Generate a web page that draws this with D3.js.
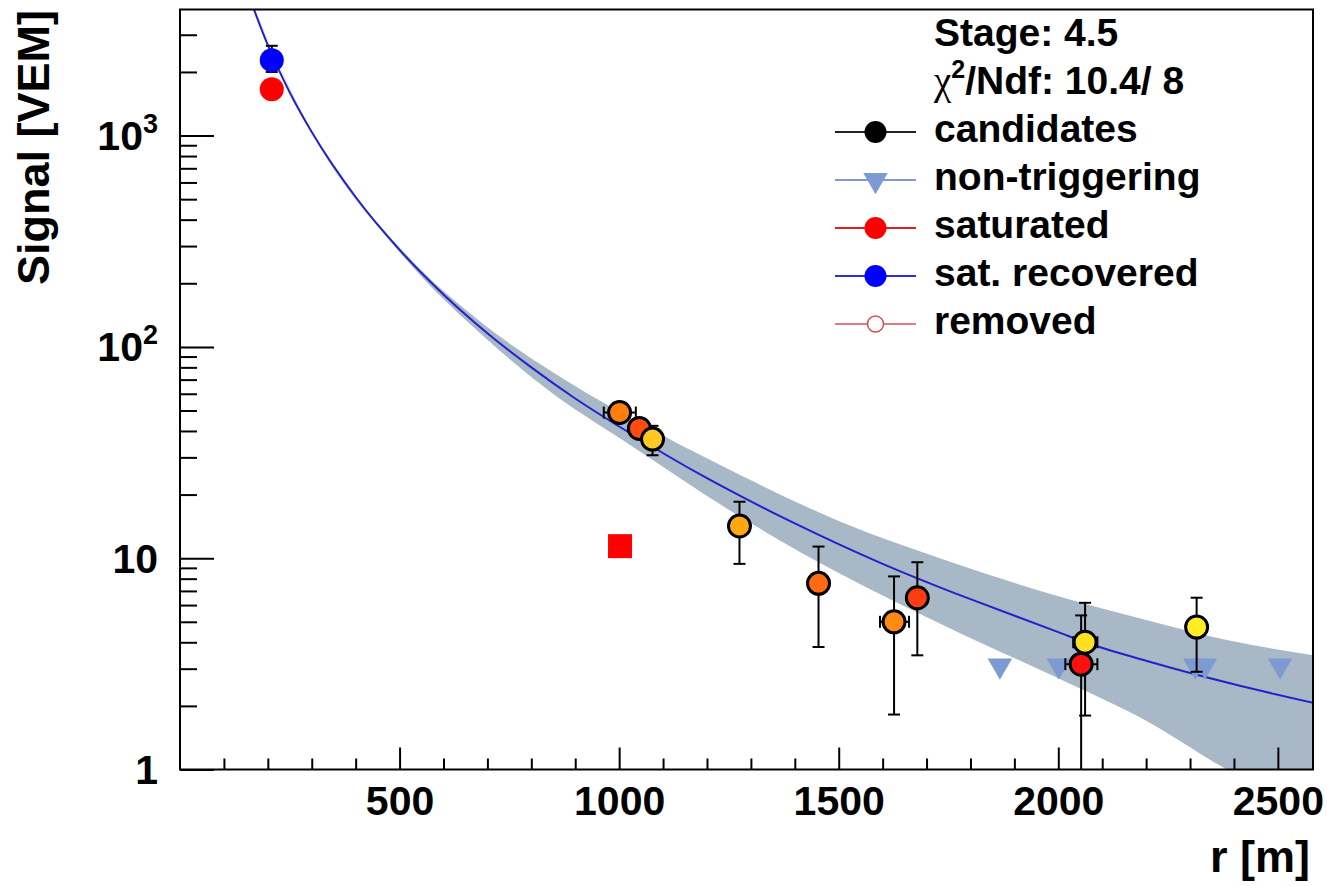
<!DOCTYPE html>
<html>
<head>
<meta charset="utf-8">
<script src="https://cdn.jsdelivr.net/npm/d3@7"></script>
<style>
  body { margin: 0; background: #fff; }
  text { font-family: "Liberation Sans", Arial, sans-serif; font-weight: bold; fill: #000; }
</style>
</head>
<body>
<svg width="1327" height="886"></svg>
<script>
// fitted LDF
const fitR = [160, 200, 250, 300, 400, 500, 600, 700, 800, 900, 1000, 1200, 1280, 1400, 1600, 1755, 1800, 2000, 2061, 2200, 2400, 2580];
const fitS = [4400, 2680, 1600, 1040, 512, 288, 177, 116, 80, 57, 42, 23.9, 19.5, 14.6, 9.4, 6.95, 6.4, 4.47, 4.0, 3.27, 2.53, 2.07];

// uncertainty band of the fit
const bandR = [160, 300, 500, 700, 850, 1000, 1280, 1500, 1755, 2000, 2200, 2384, 2580];
const bandUp = [4420, 1045, 295, 124, 75.7, 49.4, 24.5, 15.0, 9.6, 6.6, 5.1, 4.1, 3.47];
const bandLo = [4380, 1035, 281, 108, 59.8, 37.1, 15.5, 8.5, 4.64, 2.7, 1.7, 1.0, 0.63];

// candidate stations
const candR = [1001, 1046, 1076, 1274, 1454, 1626, 1679, 2061, 2052, 2315];
const candS = [48.9, 41.1, 36.6, 14.2, 7.6, 5.0, 6.5, 4.0, 3.15, 4.72];
const candSHi = [52, 44, 42.3, 18.5, 11.35, 8.2, 9.57, 6.15, 5.36, 6.5];
const candSLo = [46, 38.5, 30.7, 9.4, 3.8, 1.82, 3.47, 1.80, 0.5, 2.9];
const candRLo = [965, 1030, 1066, 1266, 1446, 1594, 1671, 2034, 2016, 2307];
const candRHi = [1038, 1062, 1086, 1282, 1462, 1660, 1687, 2089, 2089, 2323];
const candFill = ['#ff7f0e', '#ff4a12', '#ffc825', '#ffa812', '#ff6a12', '#ff8a12', '#ff3c12', '#ffe020', '#ff1010', '#ffec22'];

// non-triggering stations
const nonTrigR = [1867, 2001, 2312, 2334, 2505];
const nonTrigS = [3.1, 3.1, 3.1, 3.1, 3.1];

// saturated / recovered
const satR = [209];
const satS = [1657];
const recR = [209];
const recS = [2275];
const recSHi = [2660];
const recSLo = [2000];

// extra point (square)
const sqR = [1002];
const sqS = [11.4];

const legendItems = ['candidates', 'non-triggering', 'saturated', 'sat. recovered', 'removed'];

const svg = d3.select('svg');

const x = d3.scaleLinear().domain([0, 2580]).range([180, 1313]);
const y = d3.scaleLog().domain([1, 3950]).range([769.5, 9.5]);

const band = '#a9b8c6';
const triColor = '#7d9bd2';

svg.append('clipPath').attr('id', 'clip')
  .append('rect').attr('x', 180).attr('y', 9.5).attr('width', 1133).attr('height', 760);

const plot = svg.append('g').attr('clip-path', 'url(#clip)');

// band
const bandData = bandR.map((r, i) => ({ r, hi: bandUp[i], lo: bandLo[i] }));
plot.append('path')
  .datum(bandData)
  .attr('fill', band)
  .attr('d', d3.area()
    .x(d => x(d.r))
    .y0(d => y(d.lo))
    .y1(d => y(d.hi))
    .curve(d3.curveMonotoneX));

// fit line
plot.append('path')
  .datum(fitR.map((r, i) => ({ r, s: fitS[i] })))
  .attr('fill', 'none')
  .attr('stroke', '#2222cc')
  .attr('stroke-width', 2)
  .attr('d', d3.line().x(d => x(d.r)).y(d => y(d.s)).curve(d3.curveMonotoneX));

// axes (ticks inward)
const xMinor = d3.range(100, 2580, 100).filter(v => v % 500 !== 0);
const xMajor = [500, 1000, 1500, 2000, 2500];
svg.append('g').attr('transform', 'translate(0,769.5)')
  .call(d3.axisBottom(x).tickValues(xMinor).tickSize(-11).tickFormat(''))
  .call(g => g.select('.domain').remove());
const xa = svg.append('g').attr('transform', 'translate(0,769.5)')
  .call(d3.axisBottom(x).tickValues(xMajor).tickSize(-22).tickFormat(d3.format('d')))
  .call(g => g.select('.domain').remove());
xa.selectAll('text').attr('y', 45.5).attr('dy', null)
  .style('font-size', '41px').style('font-family', '"Liberation Sans", Arial, sans-serif').style('font-weight', 'bold');

const yMinor = [];
[1, 10, 100, 1000].forEach(p => { for (let k = 2; k <= 9; k++) if (p * k < 3950) yMinor.push(p * k); });
svg.append('g').attr('transform', 'translate(180,0)')
  .call(d3.axisLeft(y).tickValues(yMinor).tickSize(-17).tickFormat(''))
  .call(g => g.select('.domain').remove());
const ya = svg.append('g').attr('transform', 'translate(180,0)')
  .call(d3.axisLeft(y).tickValues([1, 10, 100, 1000]).tickSize(-34).tickFormat(''))
  .call(g => g.select('.domain').remove());
ya.selectAll('.tick').each(function (d) {
  const t = d3.select(this).append('text')
    .attr('x', -22).attr('y', 14).attr('text-anchor', 'end')
    .style('font-size', '41px');
  const e = Math.round(Math.log10(d));
  if (e < 2) t.text(d);
  else {
    t.append('tspan').text('10');
    t.append('tspan').attr('dy', -17).style('font-size', '27px').text(e);
  }
});
svg.selectAll('.tick line').attr('stroke', '#000').attr('stroke-width', 2);

// frame
svg.append('rect').attr('x', 180).attr('y', 9.5).attr('width', 1133).attr('height', 760)
  .attr('fill', 'none').attr('stroke', '#000').attr('stroke-width', 2);

// titles
svg.append('text').attr('x', 1310).attr('y', 872).attr('text-anchor', 'end')
  .style('font-size', '45px').text('r [m]');
svg.append('text').attr('transform', 'translate(49,10) rotate(-90)').attr('text-anchor', 'end')
  .style('font-size', '45px').text('Signal [VEM]');

// markers
const pts = svg.append('g');
const tri = d3.symbol().type(d3.symbolTriangle).size(260);
nonTrigR.forEach((r, i) => {
  pts.append('path').attr('d', tri)
    .attr('transform', `translate(${x(r)},${y(nonTrigS[i])}) rotate(180)`)
    .attr('fill', triColor);
});

const errBar = (g, cx, yHi, yLo) => {
  g.append('line').attr('x1', cx).attr('x2', cx).attr('y1', yHi).attr('y2', yLo)
    .attr('stroke', '#000').attr('stroke-width', 2);
  [yHi, yLo].forEach(yy => {
    if (yy < 769) g.append('line').attr('x1', cx - 6).attr('x2', cx + 6).attr('y1', yy).attr('y2', yy)
      .attr('stroke', '#000').attr('stroke-width', 2);
  });
};
const hBar = (g, cy, xLo, xHi) => {
  g.append('line').attr('x1', xLo).attr('x2', xHi).attr('y1', cy).attr('y2', cy)
    .attr('stroke', '#000').attr('stroke-width', 2);
  [xLo, xHi].forEach(xx => g.append('line').attr('x1', xx).attr('x2', xx).attr('y1', cy - 6).attr('y2', cy + 6)
    .attr('stroke', '#000').attr('stroke-width', 2));
};

// recovered + saturated
recR.forEach((r, i) => {
  errBar(pts, x(r), y(recSHi[i]), y(recSLo[i]));
  pts.append('circle').attr('cx', x(r)).attr('cy', y(recS[i])).attr('r', 12).attr('fill', '#0000ff');
});
satR.forEach((r, i) => {
  pts.append('circle').attr('cx', x(r)).attr('cy', y(satS[i])).attr('r', 12).attr('fill', '#ff0000');
});

sqR.forEach((r, i) => {
  pts.append('rect').attr('x', x(r) - 12).attr('y', y(sqS[i]) - 12).attr('width', 24).attr('height', 24)
    .attr('fill', '#ff0000');
});

const errG = pts.append('g').attr('clip-path', 'url(#clip)');
candR.forEach((r, i) => {
  errBar(errG, x(r), y(candSHi[i]), Math.min(y(candSLo[i]), 772));
  hBar(errG, y(candS[i]), x(candRLo[i]), x(candRHi[i]));
});
candR.forEach((r, i) => {
  pts.append('circle').attr('cx', x(r)).attr('cy', y(candS[i])).attr('r', 11)
    .attr('fill', candFill[i]).attr('stroke', '#000').attr('stroke-width', 3);
});

// legend
const lg = svg.append('g');
const tx = 934;
lg.append('text').attr('x', tx).attr('y', 46).style('font-size', '39px').text('Stage: 4.5');
const chi = lg.append('text').attr('x', tx).attr('y', 94).style('font-size', '39px');
chi.append('tspan').style('font-family', '"Liberation Serif", serif').style('font-weight', 'normal').text('χ');
chi.append('tspan').attr('dy', -16).style('font-size', '25px').text('2');
chi.append('tspan').attr('dy', 16).text('/Ndf: 10.4/ 8');

const rowY = [142, 190, 238, 286, 334];
const lineCol = ['#222', triColor, '#e02020', '#3030d0', '#d05050'];
legendItems.forEach((name, i) => {
  const cy = rowY[i] - 10;
  lg.append('line').attr('x1', 835).attr('x2', 916).attr('y1', cy).attr('y2', cy)
    .attr('stroke', lineCol[i]).attr('stroke-width', i === 4 ? 1.5 : 2);
  if (i === 0) lg.append('circle').attr('cx', 875.5).attr('cy', cy).attr('r', 11).attr('fill', '#000');
  if (i === 1) lg.append('path').attr('d', tri).attr('transform', `translate(875.5,${cy}) rotate(180)`).attr('fill', triColor);
  if (i === 2) lg.append('circle').attr('cx', 875.5).attr('cy', cy).attr('r', 11).attr('fill', '#ff0000');
  if (i === 3) lg.append('circle').attr('cx', 875.5).attr('cy', cy).attr('r', 11).attr('fill', '#0000ff');
  if (i === 4) lg.append('circle').attr('cx', 875.5).attr('cy', cy).attr('r', 8).attr('fill', '#fff')
    .attr('stroke', '#d05050').attr('stroke-width', 1.5);
  lg.append('text').attr('x', tx).attr('y', rowY[i]).style('font-size', '39px').text(name);
});
</script>
</body>
</html>
